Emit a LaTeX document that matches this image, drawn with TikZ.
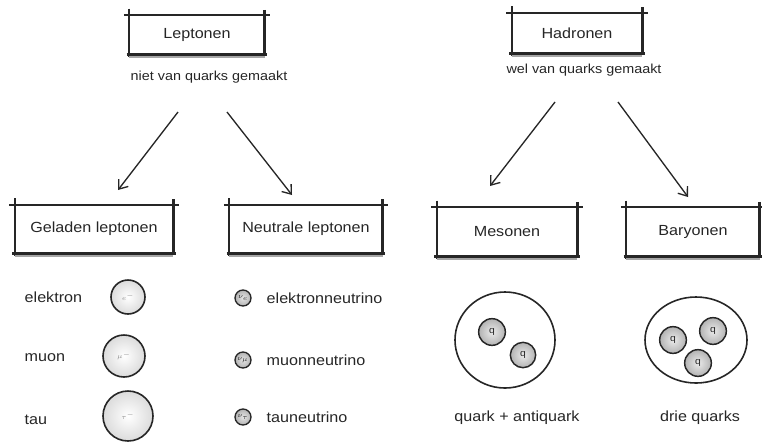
\documentclass[tikz,border=0pt]{standalone}
\usepackage{fontspec}
\setmainfont{Liberation Sans}[FakeStretch=1.1]
\usetikzlibrary{arrows.meta,shapes.geometric}
\definecolor{ink}{HTML}{262626}

% hand-drawn looking frame around a named node
\newcommand\sketchframe[1]{%
  \draw[ink, line width=1.2pt] ([xshift=-4pt]#1.north west) -- ([xshift=4pt]#1.north east);
  \draw[ink, line width=1.2pt] ([yshift=5pt]#1.north west) -- ([yshift=-2pt]#1.south west);
  \draw[ink, line width=2pt] ([yshift=4pt]#1.north east) -- ([yshift=-1pt]#1.south east);
  \draw[black!35, line width=1.6pt] ([yshift=-1.8pt]#1.south west) -- ([yshift=-1.8pt]#1.south east);
  \draw[ink, line width=2pt] ([xshift=-2pt]#1.south west) -- ([xshift=2pt]#1.south east);
}

\begin{document}
\begin{tikzpicture}[x=0.75pt,y=-0.75pt,
  every node/.style={text=ink, font=\fontsize{11}{13}\selectfont},
  catbox/.style={inner sep=0pt},
  sub/.style={font=\fontsize{9.8}{11}\selectfont},
  arr/.style={ink, line width=1pt, -{Straight Barb[length=6pt,width=9pt]}},
  ball/.style={circle, draw=ink, line width=1.2pt, inner color=white, outer color=black!14},
  nu/.style={circle, draw=ink, line width=1pt, minimum size=12pt, inner sep=0pt,
    inner color=black!10, outer color=black!30, font=\fontsize{5}{5}\selectfont},
  tiny/.style={text=black!45, font=\fontsize{5}{5}\selectfont},
  hadron/.style={ellipse, draw=ink, line width=1.2pt, inner sep=0pt},
  quark/.style={circle, draw=ink, line width=1.1pt, minimum size=20pt, inner sep=0pt,
    inner color=black!8, outer color=black!30, font=\fontsize{7}{8}\selectfont}]
\useasboundingbox (0,0) rectangle (762,444);

% top categories
\node[catbox, minimum width=0.75*135pt, minimum height=0.75*39pt] (lep) at (197,35) {Leptonen};
\node[sub] (lepsub) at (209,77) {niet van quarks gemaakt};
\node[catbox, minimum width=0.75*130pt, minimum height=0.75*40pt] (had) at (577,33) {Hadronen};
\node[sub] (hadsub) at (584,70) {wel van quarks gemaakt};
\sketchframe{lep}
\sketchframe{had}

% sub categories
\node[catbox, minimum width=0.75*158pt, minimum height=0.75*48pt] (gel) at (94,229) {Geladen leptonen};
\node[catbox, minimum width=0.75*153pt, minimum height=0.75*48pt] (neu) at (306,229) {Neutrale leptonen};
\node[catbox, minimum width=0.75*140pt, minimum height=0.75*49pt] (mes) at (507,232) {Mesonen};
\node[catbox, minimum width=0.75*133pt, minimum height=0.75*49pt] (bar) at (693,232) {Baryonen};
\sketchframe{gel}
\sketchframe{neu}
\sketchframe{mes}
\sketchframe{bar}

% arrows
\coordinate (lepA) at (178,112);
\coordinate (lepB) at (227,112);
\coordinate (gelT) at (118,190);
\coordinate (neuT) at (292,195);
\coordinate (hadA) at (555,102);
\coordinate (hadB) at (618,102);
\coordinate (mesT) at (490,186);
\coordinate (barT) at (688,197);
\draw[arr] (lepA) -- (gelT);
\draw[arr] (lepB) -- (neuT);
\draw[arr] (hadA) -- (mesT);
\draw[arr] (hadB) -- (barT);

% charged leptons
\node[anchor=west] (el) at (20,297) {elektron};
\node[anchor=west] (mu) at (20,358) {muon};
\node[anchor=west] (ta) at (20,420) {tau};
\node[ball, minimum size=0.75*34pt, tiny] (elb) at (128,297) {$e^{-}$};
\node[ball, minimum size=0.75*42pt, tiny] (mub) at (124,356) {$\mu^{-}$};
\node[ball, minimum size=0.75*50pt, tiny] (tab) at (128,416) {$\tau^{-}$};

% neutral leptons
\node[nu] (nue) at (243,298) {$\nu_e$};
\node[nu] (num) at (243,360) {$\nu_\mu$};
\node[nu] (nut) at (243,417) {$\nu_\tau$};
\node[anchor=west] (nuel) at (262,298) {elektronneutrino};
\node[anchor=west] (numl) at (262,360) {muonneutrino};
\node[anchor=west] (nutl) at (262,417) {tauneutrino};

% mesons
\node[hadron, minimum width=0.75*100pt, minimum height=0.75*96pt] (meson) at (505,340) {};
\node[quark] (mq1) at (492,332) {q};
\node[quark, minimum size=19pt] (mq2) at (523,355) {q};
\node (mesl) at (517,418) {quark + antiquark};

% baryons
\node[hadron, minimum width=0.75*102pt, minimum height=0.75*86pt] (baryon) at (696,340) {};
\node[quark] (bq1) at (673,340) {q};
\node[quark] (bq2) at (713,331) {q};
\node[quark] (bq3) at (698,363) {q};
\node (barl) at (700,418) {drie quarks};
\end{tikzpicture}
\end{document}
